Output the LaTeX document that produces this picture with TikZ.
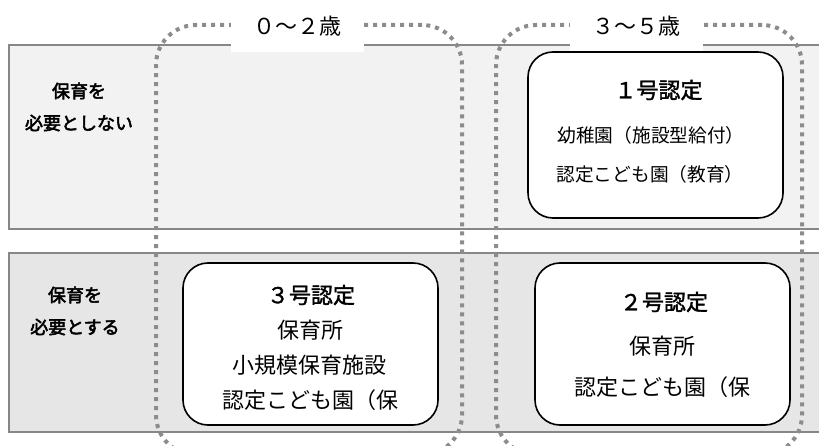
\documentclass[tikz,border=0pt]{standalone}
\usepackage{fontspec}
\setmainfont{Noto Sans CJK JP}
\newfontfamily\jp{Noto Sans CJK JP}
\newfontfamily\jpb[FakeBold=3]{Noto Sans CJK JP}
\newfontfamily\jpt[FakeBold=1.5]{Noto Sans CJK JP}
\definecolor{bandline}{RGB}{135,135,135}
\definecolor{bandA}{RGB}{242,242,242}
\definecolor{bandB}{RGB}{230,230,230}
\definecolor{dotc}{RGB}{140,140,140}
\tikzset{
  band/.style={draw=bandline, line width=2pt, inner sep=0pt, minimum width=891pt},
  agebox/.style={draw=dotc, line width=4pt, dash pattern=on 4pt off 5pt, rounded corners=40pt, inner sep=0pt, minimum width=306pt, minimum height=430pt},
  agelbl/.style={fill=white, inner sep=0pt, minimum width=133pt, minimum height=52pt, font=\jp\fontsize{22pt}{26pt}\selectfont},
  catbox/.style={draw=black, fill=white, line width=1.6pt, rounded corners=25pt, inner sep=0pt, minimum width=255pt},
  rowlbl/.style={align=center, inner sep=0pt, font=\jpb\fontsize{18pt}{32pt}\selectfont},
  ttl/.style={inner sep=0pt, font=\jpt\fontsize{22pt}{26pt}\selectfont},
  bodyL/.style={inner sep=0pt, font=\jp\fontsize{22pt}{26pt}\selectfont},
  bodyS/.style={inner sep=0pt, font=\jp\fontsize{18.7pt}{22pt}\selectfont},
}
\begin{document}
\begin{tikzpicture}[x=1pt,y=-1pt]
\useasboundingbox (0,0) rectangle (819,446);
\clip (0,0) rectangle (819,446);
% bands
\node[band, fill=bandA, minimum height=184pt] (bandtop) at (454.5,137) {};
\node[band, fill=bandB, minimum height=179pt] (bandbot) at (454.5,342.5) {};
% age frames
\node[agebox] (ageA) at (309,240) {};
\node[agebox] (ageB) at (649,240) {};
% age labels
\node[agelbl] (lblA) at (297,26) {０〜２歳};
\node[agelbl] (lblB) at (636.5,26) {３〜５歳};
% row labels
\node[rowlbl] (rowA) at (79,107) {保育を\\必要としない};
\node[rowlbl] (rowB) at (75,311) {保育を\\必要とする};
% category boxes
\node[catbox, minimum height=166pt] (n1) at (655.5,135) {};
\node[catbox, minimum height=162pt] (n3) at (310.5,344) {};
\node[catbox, minimum height=162pt] (n2) at (662.5,344) {};
% box 1 text
\node[ttl] (t1) at (658.5,90) {１号認定};
\node[bodyS] (t1a) at (651,135) {幼稚園（施設型給付）};
\node[bodyS] (t1b) at (650,174) {認定こども園（教育）};
% box 3 text
\node[ttl] (t3) at (311,295) {３号認定};
\node[bodyL] (t3a) at (310.5,330) {保育所};
\node[bodyL] (t3b) at (309.5,365) {小規模保育施設};
\node[bodyL] (t3c) at (310,400) {認定こども園（保};
% box 2 text
\node[ttl] (t2) at (664,302) {２号認定};
\node[bodyL] (t2a) at (662.5,346) {保育所};
\node[bodyL] (t2b) at (662.5,387) {認定こども園（保};
\end{tikzpicture}
\end{document}
